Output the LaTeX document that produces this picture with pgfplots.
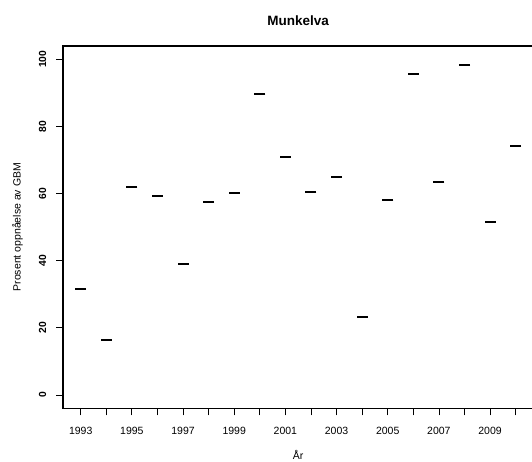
\documentclass[border=0pt]{standalone}
\usepackage{fontspec}
\setmainfont{Liberation Sans}
\usepackage{pgfplots}
\pgfplotsset{compat=1.18}

\pgfplotstableread{
aar verdi
1993 31.5
1994 16.4
1995 62.1
1996 59.4
1997 39.1
1998 57.6
1999 60.2
2000 89.6
2001 71.0
2002 60.6
2003 65.0
2004 23.3
2005 58.2
2006 95.7
2007 63.5
2008 98.4
2009 51.4
2010 74.3
}\munkelva

\begin{document}
\begin{tikzpicture}[x=1pt,y=1pt]
% page = 532 x 462, the right frame edge falls just outside like in the reference
\useasboundingbox (0,0) rectangle (532,462);
\clip (0,0) rectangle (532,462);
\begin{axis}[
    at={(63.3pt,53.6pt)}, anchor=south west,
    scale only axis,
    width=469.8pt, height=362.5pt,
    xmin=1992.32, xmax=2010.68,
    ymin=-4, ymax=104,
    axis line style={line width=1.6pt},
    tick align=outside,
    major tick length=7pt,
    major tick style={line width=0.8pt, black},
    xtick={1993,...,2010},
    xticklabels={1993,,1995,,1997,,1999,,2001,,2003,,2005,,2007,,2009,},
    ytick={0,20,...,100},
    xtick pos=bottom, ytick pos=left,
    /pgf/number format/assume math mode=true,
    xticklabel style={anchor=base, yshift=-19.6pt,
                      font=\fontsize{10.5}{12}\selectfont},
    yticklabel style={xshift=-10.3pt, rotate=90, anchor=base,
                      font=\fontsize{10.3}{12}\selectfont\bfseries},
    title={\bfseries Munkelva},
    title style={at={(0.5,1.041)}, anchor=base, inner sep=0pt,
                 font=\fontsize{13.5}{15}\selectfont},
    xlabel={År},
    xlabel style={at={(0.5,-0.1423)}, anchor=base, inner sep=0pt,
                  font=\fontsize{10.5}{12}\selectfont},
    ylabel={Prosent oppnåelse av GBM},
    ylabel style={at={(-0.0911,0.5)}, rotate=0, anchor=base, inner sep=0pt,
                  font=\fontsize{10.5}{12}\selectfont},
    clip marker paths=true,
]
\addplot[only marks, mark=-, mark size=5.5pt, mark options={line width=2pt}]
    table[x=aar, y=verdi] {\munkelva};
\end{axis}
\end{tikzpicture}
\end{document}
